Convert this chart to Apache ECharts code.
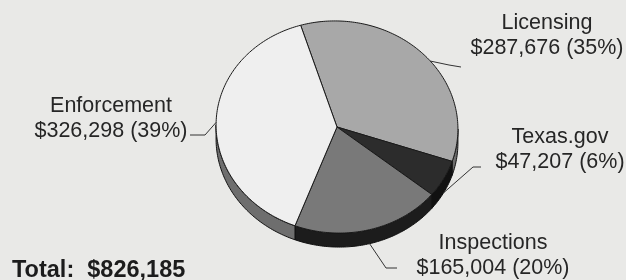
<!DOCTYPE html>
<html>
<head>
<meta charset="utf-8">
<script src="https://cdn.jsdelivr.net/npm/echarts@6/dist/echarts.min.js"></script>
<style>
  html, body { margin: 0; padding: 0; background: #e9e9e7; }
  #main { width: 626px; height: 280px; }
</style>
</head>
<body>
<div id="main"></div>
<script>
var categories = ["Licensing", "Texas.gov", "Inspections", "Enforcement"];
var amounts = [287676, 47207, 165004, 326298];
var faceColors = ["#a8a8a8", "#2c2c2c", "#797979", "#efefef"];
var sideColors = ["#6c6c6c", "#111111", "#1c1c1c", "#6e6e6e"];

// where each label and its leader line go (screen px), "at" = angle where the leader leaves the pie
var labelSpots = [
  { x: 547, y: 36, at: 43, elbow: [449, 65], end: [461, 67] },
  { x: 560, y: 150, elbow: [473, 167], end: [481, 167] },
  { x: 493, y: 256, elbow: [386, 268], end: [397, 268] },
  { x: 111, y: 119, elbow: [205, 135], end: [190, 135] }
];

var total = amounts.reduce(function (s, v) { return s + v; }, 0);

// tilted pie geometry
var cx = 337, cy = 127, rx = 121, ry = 106, depth = 14;
var tilt = 4 * Math.PI / 180;
var startDeg = 111;
var edgeDeg = Math.atan2(ry * Math.sin(tilt), rx * Math.cos(tilt)) * 180 / Math.PI;

function pt(deg, drop) {
  var t = deg * Math.PI / 180;
  var u = rx * Math.cos(t), v = -ry * Math.sin(t);
  return [
    cx + u * Math.cos(tilt) - v * Math.sin(tilt),
    cy + u * Math.sin(tilt) + v * Math.cos(tilt) + (drop || 0)
  ];
}

function arc(a, b, drop) {
  var pts = [];
  var n = Math.max(2, Math.ceil(Math.abs(a - b)));
  for (var i = 0; i <= n; i++) {
    pts.push(pt(a - (a - b) * i / n, drop));
  }
  return pts;
}

function money(v) {
  return "$" + v.toLocaleString("en-US");
}

function renderItem(params, api) {
  var idx = params.dataIndex;
  var before = 0;
  for (var i = 0; i < idx; i++) before += amounts[i];
  var a = startDeg - before / total * 360;
  var b = a - api.value(0) / total * 360;
  var children = [];

  // side wall, only the front half shows
  var hi = Math.min(a, edgeDeg), lo = Math.max(b, edgeDeg - 180);
  if (hi > lo) {
    var top = arc(hi, lo, 0);
    var bottom = arc(hi, lo, depth).reverse();
    children.push({
      type: "polygon",
      shape: { points: top.concat(bottom) },
      style: { fill: sideColors[idx], stroke: "#111", lineWidth: 1, lineJoin: "round" }
    });
  }

  children.push({
    type: "polygon",
    shape: { points: [[cx, cy]].concat(arc(a, b, 0)) },
    style: { fill: faceColors[idx], stroke: "#1a1a1a", lineWidth: 1, lineJoin: "round" }
  });

  var spot = labelSpots[idx];
  var mid = spot.at != null ? spot.at : (a + b) / 2;
  var onWall = mid < edgeDeg && mid > edgeDeg - 180;
  children.push({
    type: "polyline",
    shape: { points: [pt(mid, onWall ? depth : 0), spot.elbow, spot.end] },
    style: { stroke: "#333", lineWidth: 1, fill: null }
  });

  var pct = Math.round(api.value(0) / total * 100);
  children.push({
    type: "text",
    style: {
      text: categories[idx] + "\n" + money(api.value(0)) + " (" + pct + "%)",
      x: spot.x,
      y: spot.y,
      textAlign: "center",
      textVerticalAlign: "middle",
      font: '21.5px "Liberation Sans", Arial, sans-serif',
      lineHeight: 25,
      fill: "#262626"
    }
  });

  return { type: "group", children: children };
}

var myChart = echarts.init(document.getElementById("main"));
var option = {
  backgroundColor: "#e9e9e7",
  animation: false,
  title: {
    text: "Total:  " + money(total),
    left: 7,
    top: 254,
    textStyle: {
      fontFamily: "Liberation Sans",
      fontSize: 23.5,
      fontWeight: "bold",
      color: "#1c1c1c"
    }
  },
  series: [
    {
      type: "custom",
      coordinateSystem: "none",
      renderItem: renderItem,
      data: amounts.map(function (v, i) { return { name: categories[i], value: [v] }; })
    }
  ]
};
myChart.setOption(option);
</script>
</body>
</html>
